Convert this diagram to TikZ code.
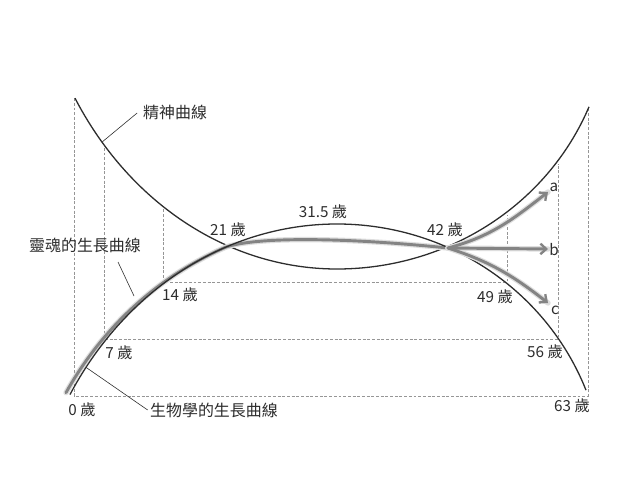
\documentclass[tikz,border=0pt]{standalone}
\usepackage{fontspec}
\setmainfont{Noto Sans CJK TC}
\usetikzlibrary{arrows.meta}
\definecolor{ink}{RGB}{45,45,45}
\definecolor{soulgray}{RGB}{132,132,132}
\definecolor{halo}{RGB}{222,222,222}
\definecolor{dashgray}{RGB}{150,150,150}
\begin{document}
\begin{tikzpicture}[x=0.03cm,y=-0.03cm,
  declare function={
    bioL(\t)=224+350*(1-sqrt(1-((\t-337)/311)^2));
    bioR(\t)=224+260*(1-sqrt(1-((\t-337)/267)^2));
    spL(\t)=269-350*(1-sqrt(1-((\t-337)/305)^2));
    spR(\t)=269-260*(1-sqrt(1-((\t-337)/272)^2));
  },
  curve/.style={draw=ink, line width=1.1pt},
  soulhalo/.style={draw=halo, line width=4.6pt, line cap=round},
  soul/.style={draw=soulgray, line width=2.5pt, line cap=round},
  soularrow/.style={soul, -{Straight Barb[length=5pt,width=9pt,line width=2pt]}},
  guide/.style={draw=dashgray, line width=0.6pt, dash pattern=on 2.5pt off 1.5pt},
  leader/.style={draw=ink, line width=0.5pt},
  lab/.style={text=ink, font=\fontsize{13.6pt}{16pt}\selectfont, inner sep=0pt},
  age/.style={text=ink, font=\fontsize{13pt}{15pt}\selectfont, inner sep=0pt},
  letter/.style={text=ink, font=\fontsize{13pt}{15pt}\selectfont, inner sep=0pt}
]
\useasboundingbox[fill=white] (0,0) rectangle (640,480);

% key coordinates
\coordinate (s0) at (74,{spL(75)});
\coordinate (s7) at (104,{spL(104)+3});
\coordinate (s14) at (163,{spL(163)+3});
\coordinate (s49) at (507,{spR(507)+3});
\coordinate (s56) at (558,{spR(558)+3});
\coordinate (s63) at (588,{spR(589)});
\coordinate (b0) at (74,396);
\coordinate (b7) at (104,339);
\coordinate (b14) at (163,282);
\coordinate (b49) at (507,282);
\coordinate (b56) at (558,339);
\coordinate (b63) at (588,396);
\coordinate (x42) at (448,248);

% dashed guides
\draw[guide] (s0) -- (b0) -- (b63) -- (s63);
\draw[guide] (s7) -- (b7) -- (b56) -- (s56);
\draw[guide] (s14) -- (b14) -- (b49) -- (s49);

% spirit curve
\draw[curve] plot[domain=75:337, samples=80] (\x,{spL(\x)}) -- plot[domain=337:589, samples=80] (\x,{spR(\x)});

% soul curve (gray)
\def\soulpath{plot[domain=66:226, samples=60] (\x,{bioL(\x+5*max(0,200-\x)/134)}) .. controls (256,237) and (340,237) .. (x42)}
\draw[soulhalo] \soulpath;
\draw[soul] \soulpath;

% biological curve
\draw[curve] plot[domain=70:337, samples=80] (\x,{bioL(\x)}) -- plot[domain=337:586, samples=80] (\x,{bioR(\x)});

% branch labels and arrows
\node[letter] (la) at (554,187) {a};
\node[letter] (lb) at (554,250) {b};
\node[letter] (lc) at (555,310) {c};
\coordinate (ta) at (548,192);
\coordinate (tb) at (548,249);
\coordinate (tc) at (548,303);
\draw[soulhalo] (x42) to[out=15,in=218] (ta);
\draw[soulhalo] (x42) -- (tb);
\draw[soulhalo] (x42) to[out=-18,in=142] (tc);
\draw[soularrow] (x42) to[out=15,in=218] (ta);
\draw[soularrow] (x42) -- (tb);
\draw[soularrow] (x42) to[out=-18,in=142] (tc);

% age labels
\node[age] (a0) at (82,410) {0 歲};
\node[age] (a7) at (119,353) {7 歲};
\node[age] (a14) at (180,295) {14 歲};
\node[age] (a21) at (228,230) {21 歲};
\node[age] (a315) at (323,212) {31.5 歲};
\node[age] (a42) at (445,230) {42 歲};
\node[age] (a49) at (495,297) {49 歲};
\node[age] (a56) at (545,352) {56 歲};
\node[age] (a63) at (572,406) {63 歲};

% curve names with leaders
\node[lab, anchor=west] (spirit) at (143,113) {精神曲線};
\node[lab] (soulname) at (85,245) {靈魂的生長曲線};
\node[lab, anchor=west] (bioname) at (150,410) {生物學的生長曲線};
\coordinate (pspirit) at (102,{spL(102)});
\coordinate (psoul) at (134,296);
\coordinate (pbio) at (86,{bioL(86)});
\coordinate (qsoul) at (118,262);
\draw[leader] ([xshift=-5]spirit.west) -- (pspirit);
\draw[leader] (qsoul) -- (psoul);
\draw[leader] (pbio) -- ([xshift=-2]bioname.west);
\end{tikzpicture}
\end{document}
